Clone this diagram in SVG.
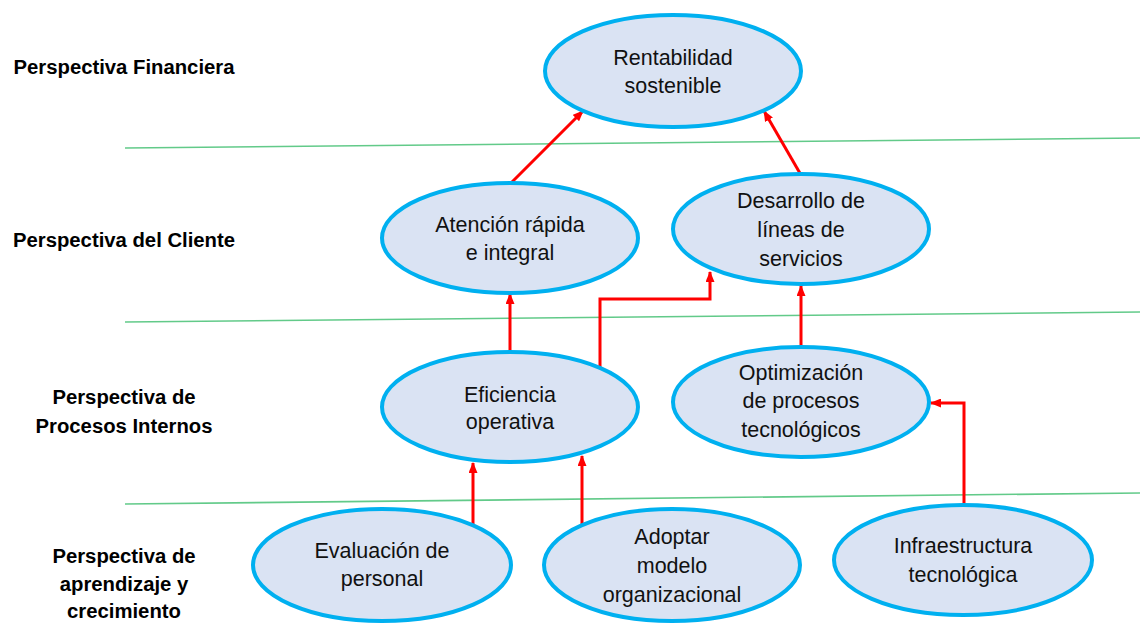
<svg xmlns="http://www.w3.org/2000/svg" width="1140" height="623" viewBox="0 0 1140 623">
<style>
.node ellipse{fill:#DAE3F3;stroke:#00B0F0;stroke-width:4}
.node text{font-family:"Liberation Sans",Arial,sans-serif;font-size:21.5px;fill:#111;text-anchor:middle}
.lbl{font-family:"Liberation Sans",Arial,sans-serif;font-size:20.3px;font-weight:bold;fill:#000;text-anchor:middle}
.sep{stroke:#2DB862;stroke-opacity:0.75;stroke-width:1.6;fill:none}
.conn{stroke:#FF0000;stroke-width:3;fill:none;marker-end:url(#ah)}
</style>
<defs>
<marker id="ah" markerUnits="userSpaceOnUse" markerWidth="11" markerHeight="9" refX="10" refY="4.5" orient="auto">
<path d="M0,0 L11,4.5 L0,9 z" fill="#FF0000"/>
</marker>
</defs>
<rect width="1140" height="623" fill="#fff"/>
<g id="separators">
<line class="sep" x1="125" y1="148" x2="1140" y2="138"/>
<line class="sep" x1="125" y1="322" x2="1140" y2="312"/>
<line class="sep" x1="125" y1="504" x2="1140" y2="493"/>
</g>
<g id="labels">
<text class="lbl" x="124" y="74">Perspectiva Financiera</text>
<text class="lbl" x="124" y="247">Perspectiva del Cliente</text>
<text class="lbl" x="124" y="404">Perspectiva de</text>
<text class="lbl" x="124" y="433">Procesos Internos</text>
<text class="lbl" x="124" y="563">Perspectiva de</text>
<text class="lbl" x="124" y="591">aprendizaje y</text>
<text class="lbl" x="124" y="618">crecimiento</text>
</g>
<g id="connectors">
<line class="conn" x1="511" y1="183" x2="583" y2="111"/>
<line class="conn" x1="801" y1="175" x2="764" y2="111"/>
<line class="conn" x1="510" y1="353" x2="510" y2="294"/>
<polyline class="conn" points="600,369 600,299 710,299 710,272"/>
<line class="conn" x1="801" y1="347" x2="801" y2="286"/>
<polyline class="conn" points="964,503 964,403 931,403"/>
<line class="conn" x1="473" y1="526" x2="473" y2="463"/>
<line class="conn" x1="582" y1="524" x2="582" y2="456"/>
</g>
<g id="n-rentabilidad" class="node">
<ellipse cx="673" cy="71" rx="128" ry="56"/>
<text x="673" y="65">Rentabilidad</text>
<text x="673" y="93">sostenible</text>
</g>
<g id="n-atencion" class="node">
<ellipse cx="510" cy="238" rx="128" ry="55"/>
<text x="510" y="232">Atención rápida</text>
<text x="510" y="260">e integral</text>
</g>
<g id="n-desarrollo" class="node">
<ellipse cx="801" cy="229" rx="128" ry="55"/>
<text x="801" y="208">Desarrollo de</text>
<text x="801" y="237">líneas de</text>
<text x="801" y="266">servicios</text>
</g>
<g id="n-eficiencia" class="node">
<ellipse cx="510" cy="407" rx="128" ry="55"/>
<text x="510" y="402">Eficiencia</text>
<text x="510" y="429">operativa</text>
</g>
<g id="n-optimizacion" class="node">
<ellipse cx="801" cy="402" rx="128" ry="55"/>
<text x="801" y="380">Optimización</text>
<text x="801" y="408">de procesos</text>
<text x="801" y="437">tecnológicos</text>
</g>
<g id="n-evaluacion" class="node">
<ellipse cx="382" cy="565" rx="129" ry="56"/>
<text x="382" y="558">Evaluación de</text>
<text x="382" y="586">personal</text>
</g>
<g id="n-adoptar" class="node">
<ellipse cx="672" cy="565" rx="128" ry="56"/>
<text x="672" y="544">Adoptar</text>
<text x="672" y="573">modelo</text>
<text x="672" y="602">organizacional</text>
</g>
<g id="n-infraestructura" class="node">
<ellipse cx="963" cy="560" rx="129" ry="55"/>
<text x="963" y="553">Infraestructura</text>
<text x="963" y="582">tecnológica</text>
</g>
</svg>
